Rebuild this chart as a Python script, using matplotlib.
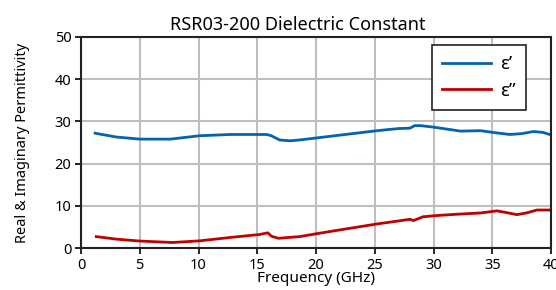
import numpy as np
import matplotlib.pyplot as plt

plt.rcParams['font.family'] = ['Noto Sans', 'DejaVu Sans']

# real part (GHz, value)
freq_re = [1.2, 3.0, 5.0, 7.6, 10.1, 12.7, 15.0, 15.8, 16.2, 16.9, 17.8, 18.6, 20.1,
           22.5, 25.2, 27.0, 28.0, 28.4, 28.9, 30.1, 32.3, 34.0, 35.3, 36.5, 37.5, 38.5, 39.3, 40.0]
eps_re = [27.2, 26.3, 25.8, 25.8, 26.6, 26.9, 26.9, 26.9, 26.6, 25.6, 25.4, 25.6, 26.1,
          26.9, 27.8, 28.3, 28.4, 29.0, 29.0, 28.6, 27.7, 27.8, 27.3, 26.9, 27.1, 27.6, 27.4, 26.8]

# imaginary part
freq_im = [1.3, 3.0, 5.0, 7.8, 10.1, 12.7, 15.2, 15.9, 16.2, 16.8, 18.6, 20.3,
           22.5, 25.2, 27.0, 28.0, 28.3, 29.1, 30.3, 32.0, 34.0, 35.4, 36.2, 37.1, 37.9, 38.8, 40.0]
eps_im = [2.7, 2.1, 1.65, 1.3, 1.7, 2.5, 3.2, 3.6, 2.8, 2.3, 2.7, 3.5,
          4.5, 5.7, 6.4, 6.8, 6.5, 7.4, 7.7, 8.0, 8.3, 8.8, 8.4, 7.9, 8.3, 9.0, 9.0]

fig = plt.figure(figsize=(5.56, 2.90), dpi=100)
ax = fig.add_axes([81/556, 42/290, 470/556, 211/290])

ax.plot(freq_re, eps_re, color='#0563ad', lw=2.0, label='ε’')
ax.plot(freq_im, eps_im, color='#c00000', lw=2.0, label='ε”')

ax.set_xlim(0, 40)
ax.set_ylim(0, 50)
ax.set_xticks(range(0, 41, 5))
ax.set_yticks(range(0, 51, 10))
ax.grid(True, color='#bfbfbf', lw=1.5)
ax.set_axisbelow(True)
for s in ax.spines.values():
    s.set_linewidth(1.5)
    s.set_color('#222222')
ax.tick_params(labelsize=10.5, length=4, width=1.2, pad=3)

ax.set_title('RSR03-200 Dielectric Constant', fontsize=13, pad=5, x=0.462)
ax.set_xlabel('Frequency (GHz)', fontsize=11, labelpad=-1)
ax.set_ylabel('Real & Imaginary Permittivity', fontsize=10.5, labelpad=18)

leg = ax.legend(loc='upper right', bbox_to_anchor=(0.947, 0.962), borderaxespad=0,
                fontsize=13.5, fancybox=False, edgecolor='#222222', framealpha=1,
                handlelength=2.6, handletextpad=0.5, borderpad=0.55, labelspacing=0.45)
leg.get_frame().set_linewidth(1.2)

fig.savefig('out.png', dpi=100)
